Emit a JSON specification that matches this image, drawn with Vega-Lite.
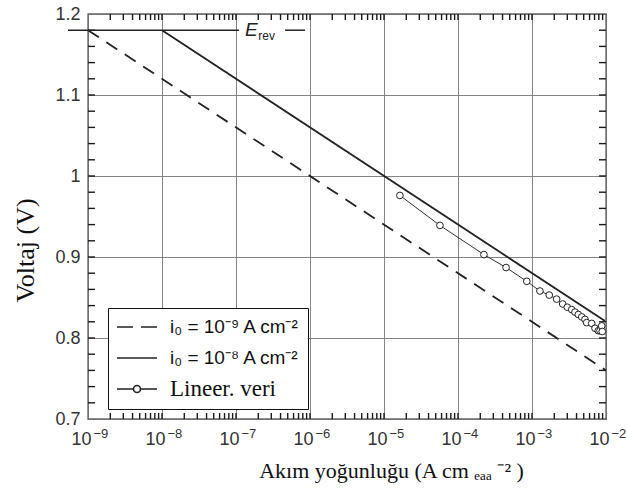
{
  "$schema": "https://vega.github.io/schema/vega-lite/v6.json",
  "width": 518,
  "height": 405,
  "autosize": {"type": "none"},
  "padding": {"left": 88, "top": 14, "right": 21, "bottom": 85},
  "background": "white",
  "config": {
    "view": {"stroke": "#1a1a1a", "strokeWidth": 1.3},
    "axis": {
      "labelFont": "Liberation Sans",
      "labelFontSize": 18,
      "labelColor": "#333",
      "gridColor": "#777",
      "gridWidth": 0.9,
      "domain": false,
      "titleFont": "Liberation Serif",
      "titleFontSize": 22,
      "titleFontWeight": "normal",
      "titleColor": "#111"
    }
  },
  "datasets": {
    "lines": [
      {"line": "a", "series": "i₀ = 10⁻⁹ A cm⁻²", "i": 1e-9, "v": 1.18},
      {"line": "a", "series": "i₀ = 10⁻⁹ A cm⁻²", "i": 1e-2, "v": 0.76},
      {"line": "b", "series": "i₀ = 10⁻⁸ A cm⁻²", "i": 1e-8, "v": 1.18},
      {"line": "b", "series": "i₀ = 10⁻⁸ A cm⁻²", "i": 9.7e-3, "v": 0.821}
    ],
    "erev": [
      {"i1": 5.37e-10, "i2": 1.1e-7, "v": 1.18},
      {"i1": 4.6e-7, "i2": 8.55e-7, "v": 1.18}
    ],
    "xt": [
      {"i": 2e-9}, {"i": 3e-9}, {"i": 4e-9}, {"i": 5e-9}, {"i": 6e-9}, {"i": 7e-9}, {"i": 8e-9}, {"i": 9e-9},
      {"i": 2e-8}, {"i": 3e-8}, {"i": 4e-8}, {"i": 5e-8}, {"i": 6e-8}, {"i": 7e-8}, {"i": 8e-8}, {"i": 9e-8},
      {"i": 2e-7}, {"i": 3e-7}, {"i": 4e-7}, {"i": 5e-7}, {"i": 6e-7}, {"i": 7e-7}, {"i": 8e-7}, {"i": 9e-7},
      {"i": 2e-6}, {"i": 3e-6}, {"i": 4e-6}, {"i": 5e-6}, {"i": 6e-6}, {"i": 7e-6}, {"i": 8e-6}, {"i": 9e-6},
      {"i": 2e-5}, {"i": 3e-5}, {"i": 4e-5}, {"i": 5e-5}, {"i": 6e-5}, {"i": 7e-5}, {"i": 8e-5}, {"i": 9e-5},
      {"i": 2e-4}, {"i": 3e-4}, {"i": 4e-4}, {"i": 5e-4}, {"i": 6e-4}, {"i": 7e-4}, {"i": 8e-4}, {"i": 9e-4},
      {"i": 2e-3}, {"i": 3e-3}, {"i": 4e-3}, {"i": 5e-3}, {"i": 6e-3}, {"i": 7e-3}, {"i": 8e-3}, {"i": 9e-3},
      {"i": 1e-8}, {"i": 1e-7}, {"i": 1e-6}, {"i": 1e-5}, {"i": 1e-4}, {"i": 1e-3}
    ],
    "yt": [
      {"v": 0.72}, {"v": 0.74}, {"v": 0.76}, {"v": 0.78}, {"v": 0.8}, {"v": 0.82}, {"v": 0.84}, {"v": 0.86}, {"v": 0.88},
      {"v": 0.9}, {"v": 0.92}, {"v": 0.94}, {"v": 0.96}, {"v": 0.98}, {"v": 1}, {"v": 1.02}, {"v": 1.04}, {"v": 1.06},
      {"v": 1.08}, {"v": 1.1}, {"v": 1.12}, {"v": 1.14}, {"v": 1.16}, {"v": 1.18}
    ],
    "pts": [
      {"i": 1.64e-5, "v": 0.976},
      {"i": 5.7e-5, "v": 0.939},
      {"i": 2.24e-4, "v": 0.903},
      {"i": 4.46e-4, "v": 0.887},
      {"i": 8.5e-4, "v": 0.870},
      {"i": 1.28e-3, "v": 0.858},
      {"i": 1.71e-3, "v": 0.853},
      {"i": 2.15e-3, "v": 0.848},
      {"i": 2.6e-3, "v": 0.842},
      {"i": 3.0e-3, "v": 0.838},
      {"i": 3.44e-3, "v": 0.835},
      {"i": 3.81e-3, "v": 0.832},
      {"i": 4.23e-3, "v": 0.829},
      {"i": 4.7e-3, "v": 0.826},
      {"i": 5.2e-3, "v": 0.823},
      {"i": 5.48e-3, "v": 0.819},
      {"i": 6.41e-3, "v": 0.818},
      {"i": 7.1e-3, "v": 0.812},
      {"i": 7.87e-3, "v": 0.809},
      {"i": 8.3e-3, "v": 0.809},
      {"i": 8.75e-3, "v": 0.815},
      {"i": 8.9e-3, "v": 0.808}
    ]
  },
  "layer": [
    {
      "data": {"name": "lines"},
      "transform": [{"filter": "datum.line === 'a'"}],
      "mark": {"type": "line", "color": "#222", "strokeWidth": 1.8, "strokeDash": [13, 9]},
      "encoding": {
        "x": {
          "field": "i",
          "type": "quantitative",
          "scale": {"type": "log", "domain": [1e-9, 1e-2], "nice": false},
          "axis": {
            "orient": "bottom",
            "values": [1e-9,1e-8,1e-7,1e-6,1e-5,1e-4,1e-3,1e-2],
            "labelExpr": "'10'",
            "labelFlush": false,
            "labelOverlap": false,
            "labelOffset": -7,
            "labelPadding": 11,
            "ticks": false,
            "grid": true,
            "title": "Akım yoğunluğu (A cm ₑₐₐ ⁻² )",
            "titleX": 303,
            "titleY": 51,
            "titleBaseline": "middle"
          }
        },
        "y": {
          "field": "v",
          "type": "quantitative",
          "scale": {"domain": [0.7, 1.2], "nice": false, "zero": false},
          "axis": {
            "orient": "left",
            "values": [0.7, 0.8, 0.9, 1, 1.1, 1.2],
            "labelExpr": "format(datum.value, '~g')",
            "labelOverlap": false,
            "labelPadding": 8,
            "ticks": false,
            "grid": true,
            "title": "Voltaj (V)",
            "titleFontSize": 26,
            "titleX": -63,
            "titleY": 236,
            "titleBaseline": "middle"
          }
        }
      }
    },
    {
      "data": {"name": "xt"},
      "mark": {"type": "tick", "orient": "vertical", "size": 12, "thickness": 1.4, "color": "#1a1a1a", "clip": true, "opacity": 1},
      "encoding": {
        "x": {"field": "i", "type": "quantitative", "axis": null},
        "y": {"datum": 0.7, "type": "quantitative", "axis": null}
      }
    },
    {
      "data": {"name": "xt"},
      "mark": {"type": "tick", "orient": "vertical", "size": 12, "thickness": 1.4, "color": "#1a1a1a", "clip": true, "opacity": 1},
      "encoding": {
        "x": {"field": "i", "type": "quantitative", "axis": null},
        "y": {"datum": 1.2, "type": "quantitative", "axis": null}
      }
    },
    {
      "data": {"name": "yt"},
      "mark": {"type": "tick", "orient": "horizontal", "size": 14, "thickness": 1.4, "color": "#1a1a1a", "clip": true, "opacity": 1},
      "encoding": {
        "y": {"field": "v", "type": "quantitative", "axis": null},
        "x": {"datum": 1e-9, "type": "quantitative", "axis": null}
      }
    },
    {
      "data": {"name": "yt"},
      "mark": {"type": "tick", "orient": "horizontal", "size": 14, "thickness": 1.4, "color": "#1a1a1a", "clip": true, "opacity": 1},
      "encoding": {
        "y": {"field": "v", "type": "quantitative", "axis": null},
        "x": {"datum": 1e-2, "type": "quantitative", "axis": null}
      }
    },
    {
      "data": {"name": "lines"},
      "transform": [{"filter": "datum.line === 'b'"}],
      "mark": {"type": "line", "color": "#222", "strokeWidth": 1.8},
      "encoding": {
        "x": {"field": "i", "type": "quantitative", "axis": null},
        "y": {"field": "v", "type": "quantitative", "axis": null}
      }
    },
    {
      "data": {"name": "erev"},
      "mark": {"type": "rule", "color": "#222", "strokeWidth": 1.5},
      "encoding": {
        "x": {"field": "i1", "type": "quantitative", "axis": null},
        "x2": {"field": "i2"},
        "y": {"field": "v", "type": "quantitative", "axis": null}
      }
    },
    {
      "data": {"values": [{"t": "E", "i": 1.32e-7, "v": 1.18}]},
      "mark": {"type": "text", "font": "Liberation Sans", "fontStyle": "italic", "fontSize": 19, "align": "left", "baseline": "middle", "color": "#222"},
      "encoding": {
        "x": {"field": "i", "type": "quantitative", "axis": null},
        "y": {"field": "v", "type": "quantitative", "axis": null},
        "text": {"field": "t"}
      }
    },
    {
      "data": {"values": [{"t": "rev", "i": 2.0e-7, "v": 1.18}]},
      "mark": {"type": "text", "font": "Liberation Sans", "fontSize": 12, "align": "left", "baseline": "middle", "dy": 6, "color": "#222"},
      "encoding": {
        "x": {"field": "i", "type": "quantitative", "axis": null},
        "y": {"field": "v", "type": "quantitative", "axis": null},
        "text": {"field": "t"}
      }
    },
    {
      "data": {"name": "pts"},
      "mark": {"type": "line", "color": "#333", "strokeWidth": 1},
      "encoding": {
        "x": {
          "field": "i",
          "type": "quantitative",
          "axis": {
            "orient": "bottom",
            "values": [1e-9,1e-8,1e-7,1e-6,1e-5,1e-4,1e-3,1e-2],
            "labelExpr": "'−' + format(-round(log(datum.value)/LN10), 'd')",
            "labelFontSize": 13,
            "labelAlign": "left",
            "labelFlush": false,
            "labelOverlap": false,
            "labelOffset": 5,
            "labelPadding": 8,
            "ticks": false,
            "grid": false,
            "title": null
          }
        },
        "y": {"field": "v", "type": "quantitative", "axis": null}
      }
    },
    {
      "data": {"name": "pts"},
      "mark": {"type": "point", "shape": "circle", "filled": false, "fill": "white", "fillOpacity": 1, "stroke": "#222", "strokeWidth": 1, "size": 45, "opacity": 1},
      "encoding": {
        "x": {"field": "i", "type": "quantitative", "axis": null},
        "y": {"field": "v", "type": "quantitative", "axis": null}
      }
    },
    {
      "data": {"name": "lines"},
      "mark": {"type": "point", "filled": false, "color": "#222", "strokeWidth": 1.6, "opacity": 0},
      "encoding": {
        "x": {"field": "i", "type": "quantitative", "axis": null},
        "y": {"field": "v", "type": "quantitative", "axis": null},
        "shape": {
          "field": "series",
          "type": "nominal",
          "scale": {
            "domain": ["i₀ = 10⁻⁹ A cm⁻²", "i₀ = 10⁻⁸ A cm⁻²", "Lineer. veri"],
            "range": ["M-1,0H0.6M1.4,0H3", "M-1,0H3", "M-1,0H0.65M1.35,0H3M0.65,0A0.35,0.35 0 1,1 1.35,0A0.35,0.35 0 1,1 0.65,0"]
          },
          "legend": {
            "title": null,
            "orient": "none",
            "legendX": 20,
            "legendY": 294,
            "symbolSize": 400,
            "symbolStrokeWidth": 1.6,
            "symbolOpacity": 1,
            "symbolStrokeColor": "#222",
            "symbolFillColor": "white",
            "labelFont": {"expr": "datum.value === 'Lineer. veri' ? 'Liberation Serif' : 'Liberation Sans'"},
            "labelFontSize": {"expr": "datum.value === 'Lineer. veri' ? 23 : 19"},
            "labelColor": "#111",
            "labelLimit": 300,
            "labelOffset": 32,
            "padding": 8,
            "rowPadding": 10,
            "strokeColor": "#111",
            "fillColor": "white"
          }
        }
      }
    }
  ],
  "resolve": {"axis": {"x": "independent", "y": "independent"}}
}
